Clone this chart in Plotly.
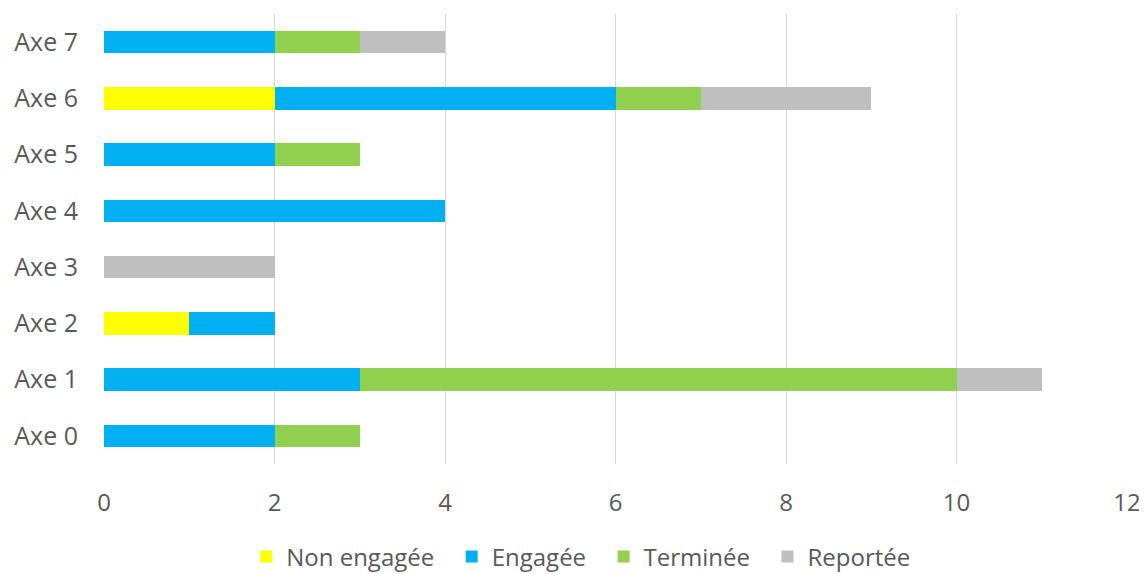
import plotly.graph_objects as go

categories = ["Axe 0", "Axe 1", "Axe 2", "Axe 3", "Axe 4", "Axe 5", "Axe 6", "Axe 7"]
non_engagee = [0, 0, 1, 0, 0, 0, 2, 0]
engagee = [2, 3, 1, 0, 4, 2, 4, 2]
terminee = [1, 7, 0, 0, 0, 1, 1, 1]
reportee = [0, 1, 0, 2, 0, 0, 2, 1]
x_ticks = [0, 2, 4, 6, 8, 10, 12]

series = [
    ("Non engagée", non_engagee, "#FFFF00"),
    ("Engagée", engagee, "#00B0F0"),
    ("Terminée", terminee, "#92D050"),
    ("Reportée", reportee, "#BFBFBF"),
]

NBSP = "\u00a0"

fig = go.Figure()
for name, vals, color in series:
    fig.add_trace(go.Bar(
        y=categories, x=vals, name=name + NBSP * 2, orientation="h",
        marker=dict(color=color, line=dict(width=0)),
    ))

font = "Open Sans, Noto Sans, sans-serif"
fig.update_layout(
    barmode="stack",
    bargap=0.6,
    width=1139, height=584,
    margin=dict(l=96, r=20, t=6, b=128),
    plot_bgcolor="white", paper_bgcolor="white",
    font=dict(family=font, size=24, color="#595959"),
    xaxis=dict(range=[0, 12], tickvals=x_ticks, showgrid=True, gridcolor="#D9D9D9",
               gridwidth=1, zeroline=False, showline=False, ticks="",
               ticklabelstandoff=22, automargin=False,
               tickfont=dict(size=24, color="#595959")),
    yaxis=dict(categoryorder="array", categoryarray=categories, showgrid=False,
               zeroline=False, showline=False, ticks="", ticklabelstandoff=25,
               automargin=False, tickfont=dict(size=25, color="#595959")),
    legend=dict(orientation="h", x=0.139, xanchor="left", y=-0.2067, yanchor="middle",
                font=dict(size=24, color="#595959"), traceorder="normal",
                itemwidth=30),
    showlegend=True,
)
fig.write_html("out.html")
